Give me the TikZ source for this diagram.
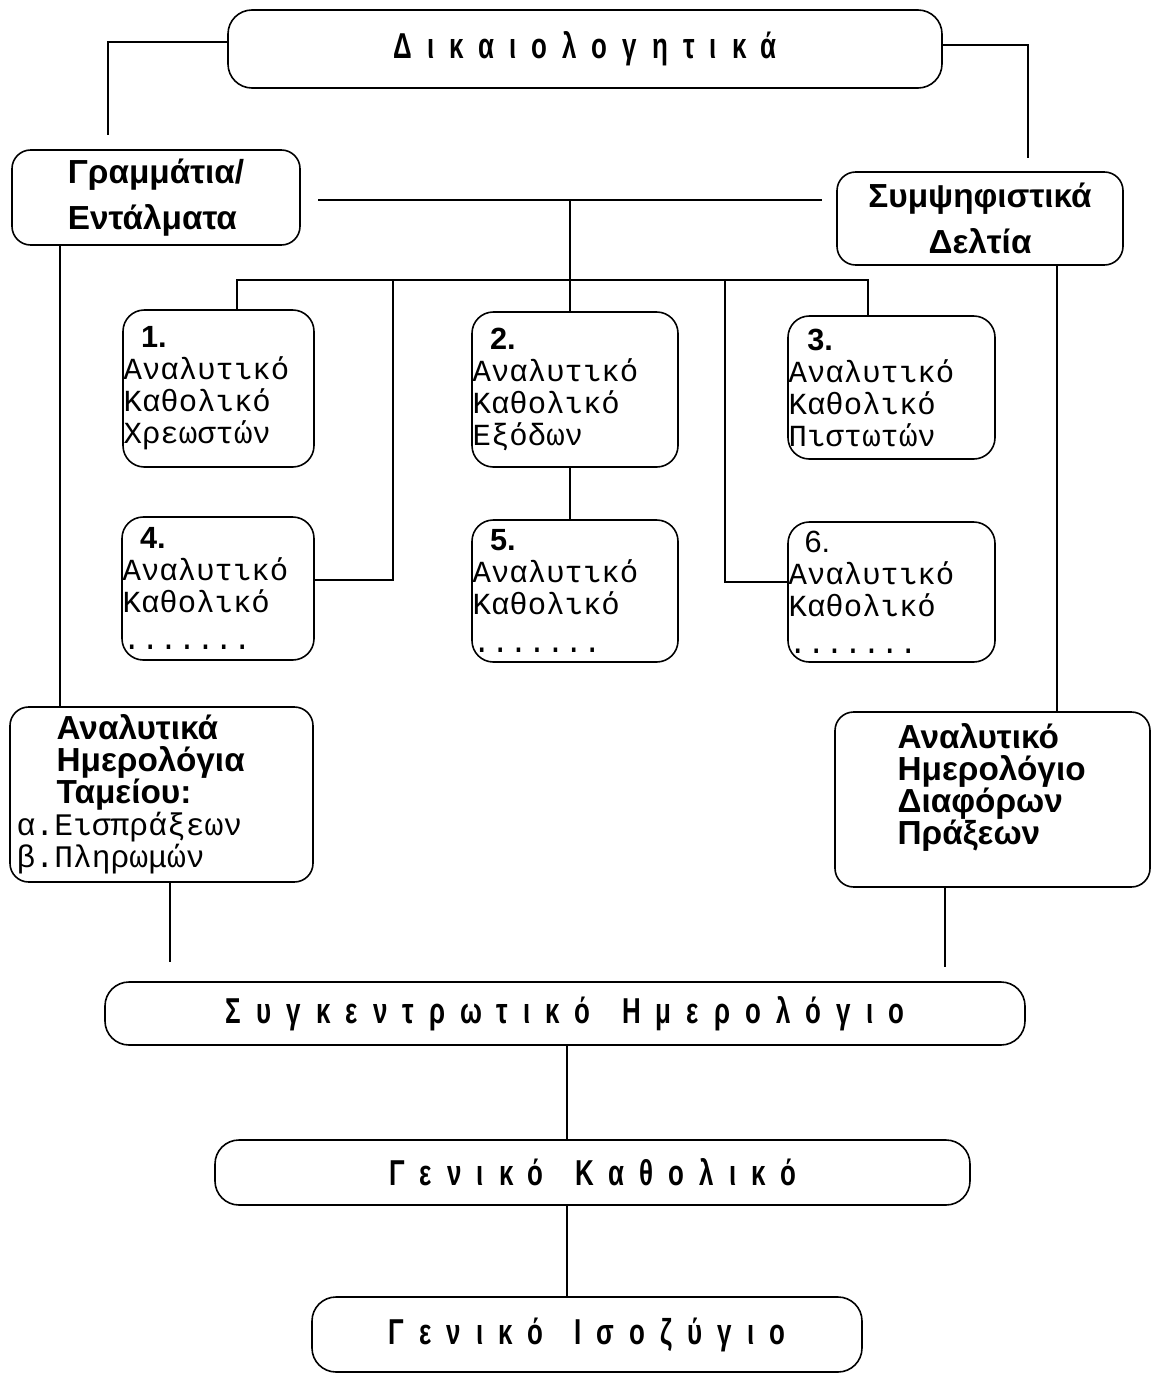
\documentclass[tikz,border=0pt]{standalone}
\usepackage{fontspec}
\setmainfont{Liberation Sans}
\newfontfamily\monofont{Liberation Mono}
\newfontfamily\spacedfont[FakeStretch=0.72,LetterSpace=42]{Liberation Sans Bold}
\begin{document}
\begin{tikzpicture}[x=0.75pt,y=0.75pt,yscale=-1,xscale=1,
  titlebox/.style={draw,line width=1.2pt,rounded corners=18pt,inner sep=0pt,font=\spacedfont\fontsize{27}{27}\selectfont},
  bigbox/.style={draw,line width=1.2pt,rounded corners=14pt,inner sep=0pt,font=\bfseries\fontsize{25}{24}\selectfont},
  subbox/.style={draw,line width=1.2pt,rounded corners=16pt,inner xsep=0.5pt,inner ysep=0pt,align=left,font=\monofont\fontsize{23}{24}\selectfont},
  link/.style={line width=1pt}]
\useasboundingbox (0,0) rectangle (1152,1374);

%Shape: Rounded Rect [top]
\node [titlebox,minimum width=535.5pt,minimum height=58.5pt] (dik) at (585,49) {Δικαιολογητικά};
%Shape: Rounded Rect [sources]
\node [bigbox,minimum width=216pt,minimum height=71.25pt,align=left,font=\bfseries\fontsize{25}{35}\selectfont] (gram) at (156,197.5) {Γραμμάτια/\\Εντάλματα};
\node [bigbox,minimum width=214.5pt,minimum height=69.75pt,align=center,font=\bfseries\fontsize{25}{35}\selectfont] (sym) at (980,218.5) {Συμψηφιστικά\\Δελτία};

%Shape: Rounded Rect [ledgers]
\node [subbox,minimum width=143.25pt,minimum height=117.75pt,text width=142.25pt] (b1) at (218.5,388.5) {\hspace*{13pt}{\normalfont\bfseries 1.}\\Αναλυτικό\\Καθολικό\\Χρεωστών};
\node [subbox,minimum width=154.5pt,minimum height=116.25pt,text width=153.5pt] (b2) at (575,389.5) {\hspace*{13pt}{\normalfont\bfseries 2.}\\Αναλυτικό\\Καθολικό\\Εξόδων};
\node [subbox,minimum width=155.25pt,minimum height=107.25pt,text width=154.25pt] (b3) at (891.5,387.5) {\hspace*{14pt}{\normalfont\bfseries 3.}\\Αναλυτικό\\Καθολικό\\Πιστωτών};
\node [subbox,minimum width=144pt,minimum height=107.25pt,text width=143pt] (b4) at (218,588.5) {\hspace*{13pt}{\normalfont\bfseries 4.}\\Αναλυτικό\\Καθολικό\\[4pt].......};
\node [subbox,minimum width=154.5pt,minimum height=106.5pt,text width=153.5pt] (b5) at (575,591) {\hspace*{13pt}{\normalfont\bfseries 5.}\\Αναλυτικό\\Καθολικό\\[4pt].......};
\node [subbox,minimum width=155.25pt,minimum height=105pt,text width=154.25pt] (b6) at (891.5,592) {\hspace*{12pt}{\normalfont 6.}\\Αναλυτικό\\Καθολικό\\[4pt].......};

%Shape: Rounded Rect [journals]
\node [bigbox,minimum width=227.25pt,minimum height=131.25pt,align=left,text width=217.25pt,inner xsep=5pt] (anl) at (161.5,794.5) {\hspace*{30pt}Αναλυτικά\\\hspace*{30pt}Ημερολόγια\\\hspace*{30pt}Ταμείου:\\{\monofont\mdseries\fontsize{23.5}{24}\selectfont α.Εισπράξεων}\\{\monofont\mdseries\fontsize{23.5}{24}\selectfont β.Πληρωμών}};
\node [bigbox,minimum width=236.25pt,minimum height=131.25pt,align=left,text width=226.25pt,inner xsep=5pt] (anr) at (992.5,799.5) {\hspace*{42pt}Αναλυτικό\\\hspace*{42pt}Ημερολόγιο\\\hspace*{42pt}Διαφόρων\\\hspace*{42pt}Πράξεων\\ \mbox{}};

%Shape: Rounded Rect [bottom]
\node [titlebox,minimum width=690pt,minimum height=47.25pt] (syg) at (565,1013.5) {Συγκεντρωτικό\hspace{7pt} Ημερολόγιο};
\node [titlebox,minimum width=566.25pt,minimum height=48.75pt] (gk) at (592.5,1172.5) {Γενικό\hspace{7pt} Καθολικό};
\node [titlebox,minimum width=412.5pt,minimum height=56.25pt] (gi) at (587,1334.5) {Γενικό\hspace{7pt} Ισοζύγιο};

%Straight Lines
\coordinate (dl) at (108,42);
\coordinate (gramtop) at (108,135);
\draw [link] (dl -| dik.west) -- (dl) -- (gramtop);
\coordinate (dr) at (1028,45);
\coordinate (symtop) at (1028,158);
\draw [link] (dr -| dik.east) -- (dr) -- (symtop);

\coordinate (hl) at (318,200);
\coordinate (hr) at (822,200);
\draw [link] (hl) -- (hr);
\coordinate (vm) at (570,200);
\draw [link] (vm) -- (vm |- b2.north);
\draw [link] (vm |- b2.south) -- (vm |- b5.north);

\coordinate (bl) at (237,280);
\coordinate (br) at (868,280);
\draw [link] (bl |- b1.north) -- (bl) -- (br) -- (br |- b3.north);
\coordinate (v4) at (393,280);
\coordinate (k4) at (393,580);
\draw [link] (v4) -- (k4) -- (k4 -| b4.east);
\coordinate (v6) at (725,280);
\coordinate (k6) at (725,582);
\draw [link] (v6) -- (k6) -- (k6 -| b6.west);

\coordinate (lv) at (60,0);
\draw [link] (lv |- gram.south) -- (lv |- anl.north);
\coordinate (rv) at (1057,0);
\draw [link] (rv |- sym.south) -- (rv |- anr.north);

\coordinate (sl) at (170,962);
\draw [link] (sl |- anl.south) -- (sl);
\coordinate (sr) at (945,967);
\draw [link] (sr |- anr.south) -- (sr);

\coordinate (cv) at (567,0);
\draw [link] (cv |- syg.south) -- (cv |- gk.north);
\draw [link] (cv |- gk.south) -- (cv |- gi.north);

\end{tikzpicture}
\end{document}
